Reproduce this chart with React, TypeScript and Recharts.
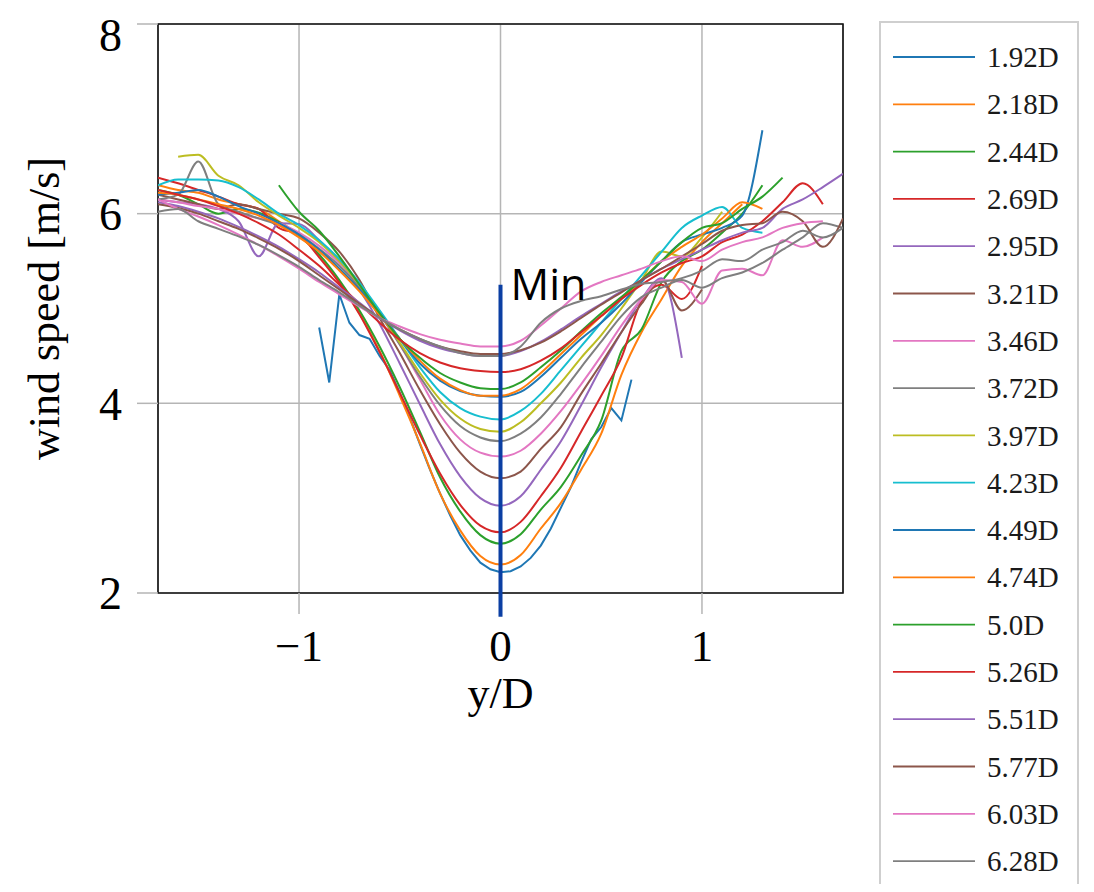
import {
  LineChart,
  Line,
  XAxis,
  YAxis,
  CartesianGrid,
  ReferenceArea,
  ReferenceLine,
  ReferenceDot,
} from "recharts";

// lateral position y/D for the regular profiles
const X_GRID = [
  -1.7, -1.6, -1.5, -1.4, -1.3, -1.2, -1.1, -1.0, -0.9, -0.8, -0.7, -0.6, -0.5,
  -0.4, -0.3, -0.2, -0.1, 0, 0.1, 0.2, 0.3, 0.4, 0.5, 0.6, 0.7, 0.8, 0.9, 1.0,
  1.1, 1.2, 1.3, 1.4, 1.5, 1.6, 1.7,
];

// the closest profile has a shorter, finer scan
const X_FINE = [
  -0.9, -0.85, -0.8, -0.75, -0.7, -0.65, -0.6, -0.55, -0.5, -0.45, -0.4, -0.35,
  -0.3, -0.25, -0.2, -0.15, -0.1, -0.05, 0, 0.05, 0.1, 0.15, 0.2, 0.25, 0.3,
  0.35, 0.4, 0.45, 0.5, 0.55, 0.6, 0.65,
];

const X_TICKS = [-1, 0, 1];
const Y_TICKS = [2, 4, 6, 8];

const LABELS = [
  "1.92D", "2.18D", "2.44D", "2.69D", "2.95D", "3.21D", "3.46D", "3.72D", "3.97D",
  "4.23D", "4.49D", "4.74D", "5.0D", "5.26D", "5.51D", "5.77D", "6.03D", "6.28D",
];

const COLORS = [
  "#1f77b4", "#ff7f0e", "#2ca02c", "#d62728", "#9467bd", "#8c564b", "#e377c2",
  "#7f7f7f", "#bcbd22", "#17becf", "#1f77b4", "#ff7f0e", "#2ca02c", "#d62728",
  "#9467bd", "#8c564b", "#e377c2", "#7f7f7f",
];

const _ = null;

// wind speed [m/s] per downstream distance
const U_192 = [
  4.8, 4.22, 5.15, 4.85, 4.72, 4.68, 4.5, 4.35, 4.11, 3.85, 3.57, 3.3, 3.05, 2.82,
  2.61, 2.45, 2.32, 2.25, 2.22, 2.23, 2.28, 2.37, 2.5, 2.68, 2.9, 3.12, 3.38, 3.62,
  3.75, 3.95, 3.82, 4.25,
];
const U_218 = [
  6.3, 6.25, 6.22, 6.15, 6.1, 6.05, 5.92, 5.77, 5.56, 5.28, 4.95, 4.55, 4.08, 3.58,
  3.05, 2.66, 2.39, 2.3, 2.4, 2.68, 2.95, 3.3, 3.68, 4.3, 4.75, 5.1, 5.45, 5.7,
  5.9, 6.1, _, _, _, _, _,
];
const U_244 = [
  6.25, 6.2, 6.1, 6.0, 6.05, 6.01, 5.91, 5.77, 5.57, 5.3, 4.98, 4.6, 4.17, 3.7,
  3.22, 2.86, 2.61, 2.52, 2.62, 2.88, 3.12, 3.45, 3.82, 4.55, 4.78, 5.28, 5.5,
  5.62, 5.8, 6.0, 6.3, _, _, _, _,
];
const U_269 = [
  6.38, 6.32, 6.25, 6.18, 6.1, 6.05, 5.85, 5.78, 5.54, 5.27, 4.94, 4.54, 4.11,
  3.67, 3.26, 2.93, 2.71, 2.64, 2.75, 3.02, 3.32, 3.7, 4.08, 4.48, 5.08, 5.25,
  5.1, 5.45, _, _, _, _, _, _, _,
];
const U_295 = [
  6.15, 6.12, 6.1, 6.05, 5.92, 5.55, 5.9, 5.89, 5.72, 5.5, 5.2, 4.84, 4.42, 3.99,
  3.57, 3.23, 3.0, 2.92, 3.02, 3.3, 3.6, 3.98, 4.38, 4.75, 5.1, 5.32, 4.48, _, _,
  _, _, _, _, _, _,
];
const U_321 = [
  6.2, 6.15, 6.1, 6.05, 6.1, 6.05, 6.0, 5.95, 5.8, 5.6, 5.3, 4.9, 4.53, 4.14,
  3.78, 3.48, 3.28, 3.21, 3.28, 3.52, 3.75, 4.1, 4.42, 4.75, 5.05, 5.3, 4.98, 5.2,
  _, _, _, _, _, _, _,
];
const U_346 = [
  6.15, 6.12, 6.08, 6.05, 6.0, 5.95, 5.9, 5.8, 5.66, 5.48, 5.25, 4.95, 4.62, 4.25,
  3.88, 3.62, 3.48, 3.44, 3.5, 3.68, 3.92, 4.2, 4.5, 4.82, 5.1, 5.3, 5.28, 5.05,
  5.4, 5.42, 5.35, 5.72, 5.65, 5.75, _,
];
const U_372 = [
  6.15, 6.2, 6.55, 6.1, 6.02, 5.95, 5.88, 5.78, 5.63, 5.45, 5.22, 4.94, 4.62,
  4.28, 3.98, 3.76, 3.64, 3.6, 3.68, 3.85, 4.1, 4.38, 4.65, 4.92, 5.12, 5.22, 5.3,
  5.22, 5.32, 5.38, 5.48, 5.62, 5.75, 5.9, 5.85,
];
const U_397 = [
  _, 6.6, 6.62, 6.4, 6.3, 6.12, 5.98, 5.85, 5.7, 5.5, 5.25, 4.95, 4.64, 4.32,
  4.04, 3.84, 3.73, 3.7, 3.8, 4.0, 4.22, 4.48, 4.72, 5.0, 5.3, 5.6, 5.55, 5.75,
  6.02, _, _, _, _, _, _,
];
const U_423 = [
  6.3, 6.36, 6.36, 6.35, 6.28, 6.15, 6.0, 5.88, 5.72, 5.52, 5.27, 4.98, 4.68,
  4.38, 4.12, 3.95, 3.86, 3.83, 3.92, 4.1, 4.35, 4.6, 4.85, 5.1, 5.35, 5.6, 5.85,
  5.98, 6.07, 5.85, 5.8, _, _, _, _,
];
const U_449 = [
  6.2, 6.22, 6.25, 6.18, 6.08, 6.0, 5.9, 5.78, 5.62, 5.42, 5.2, 4.95, 4.68, 4.42,
  4.24, 4.13, 4.08, 4.07, 4.12, 4.28, 4.48, 4.68, 4.85, 5.05, 5.28, 5.5, 5.7,
  5.78, 5.85, 5.98, 6.88, _, _, _, _,
];
const U_474 = [
  6.22, 6.2, 6.15, 6.1, 6.05, 5.98, 5.88, 5.75, 5.6, 5.4, 5.18, 4.93, 4.68, 4.45,
  4.26, 4.14, 4.08, 4.08, 4.15, 4.32, 4.52, 4.72, 4.92, 5.1, 5.3, 5.5, 5.65, 5.78,
  5.95, 6.12, 6.05, _, _, _, _,
];
const U_500 = [
  _, _, _, _, _, _, 6.3, 6.02, 5.82, 5.55, 5.25, 4.95, 4.68, 4.48, 4.32, 4.22,
  4.16, 4.15, 4.22, 4.38, 4.56, 4.76, 4.95, 5.12, 5.3, 5.5, 5.7, 5.85, 5.9, 6.05,
  6.18, 6.38, _, _, _,
];
const U_526 = [
  6.25, 6.2, 6.15, 6.08, 6.0, 5.9, 5.78, 5.62, 5.45, 5.25, 5.05, 4.85, 4.67, 4.53,
  4.43, 4.37, 4.34, 4.33, 4.36, 4.45, 4.58, 4.75, 4.92, 5.1, 5.25, 5.38, 5.48,
  5.55, 5.7, 5.78, 5.92, 6.12, 6.32, 6.1, _,
];
const U_551 = [
  6.12, 6.08, 6.02, 5.95, 5.86, 5.76, 5.65, 5.52, 5.38, 5.22, 5.06, 4.9, 4.77,
  4.66, 4.58, 4.53, 4.5, 4.5, 4.55, 4.65, 4.78, 4.92, 5.05, 5.18, 5.3, 5.42, 5.52,
  5.62, 5.72, 5.8, 5.85, 6.05, 6.15, 6.28, 6.42,
];
const U_577 = [
  6.1, 6.06, 6.0, 5.92, 5.84, 5.74, 5.63, 5.5, 5.35, 5.2, 5.05, 4.9, 4.78, 4.68,
  4.6, 4.55, 4.52, 4.52, 4.56, 4.64, 4.76, 4.9, 5.04, 5.17, 5.3, 5.42, 5.55, 5.68,
  5.82, 5.88, 5.9, 6.02, 5.92, 5.65, 5.95,
];
const U_603 = [
  6.15, 6.05, 5.97, 5.88, 5.78, 5.67, 5.55, 5.42, 5.28, 5.15, 5.02, 4.9, 4.81,
  4.73, 4.67, 4.63, 4.6, 4.6, 4.66, 4.82, 5.0, 5.18, 5.28, 5.35, 5.42, 5.5, 5.55,
  5.5, 5.62, 5.7, 5.75, 5.85, 5.9, 5.92, _,
];
const U_628 = [
  6.02, 6.05, 5.92, 5.84, 5.76, 5.67, 5.56, 5.44, 5.3, 5.17, 5.03, 4.9, 4.78,
  4.68, 4.6, 4.53, 4.5, 4.5, 4.6, 4.85, 5.0, 5.08, 5.13, 5.2, 5.26, 5.28, 5.32,
  5.4, 5.52, 5.5, 5.62, 5.7, 5.82, 5.75, 5.85,
];

const PROFILES = [
  U_192, U_218, U_244, U_269, U_295, U_321, U_346, U_372, U_397,
  U_423, U_449, U_474, U_500, U_526, U_551, U_577, U_603, U_628,
];

// position and top of the marker at the wake centre
const MIN_X = 0;
const MIN_TOP = 5.25;
const MIN_BOTTOM = 1.75;

const series = PROFILES.map((u, i) => {
  const xs = i === 0 ? X_FINE : X_GRID;
  return {
    name: LABELS[i],
    color: COLORS[i],
    data: xs.map((x, j) => ({ y: x, v: u[j] })),
  };
});

const serif = "'Liberation Serif', 'Times New Roman', serif";
const GRID = "#b5b5b5";
const TICK_SIZE = 21;
const TICK_MARGIN = 15;

const formatTick = (v: number) => (v < 0 ? "\u2212" + Math.abs(v) : String(v));

// x tick: gray tick mark below the frame (left out under the Min marker) and the label
const XTick = (props: any) => {
  const { x, y, payload } = props;
  const top = y - TICK_MARGIN - TICK_SIZE;
  return (
    <g>
      {payload.value !== MIN_X && (
        <line x1={x} x2={x} y1={top} y2={top + TICK_SIZE} stroke={GRID} strokeWidth={1.5} />
      )}
      <text
        x={x}
        y={y}
        dy="0.71em"
        textAnchor="middle"
        fill="#000"
        fontSize={45}
        fontFamily={serif}
      >
        {formatTick(payload.value)}
      </text>
    </g>
  );
};

const Legend = () => (
  <svg
    width={202}
    height={880}
    style={{ position: "absolute", left: 871, top: 13 }}
  >
    <rect x={1} y={1} width={198} height={900} fill="#fff" stroke="#cfcfcf" strokeWidth={2} />
    {series.map((s, i) => {
      const cy = 36 + i * 47.3;
      return (
        <g key={s.name}>
          <line x1={14} x2={96} y1={cy} y2={cy} stroke={s.color} strokeWidth={1.8} />
          <text x={108} y={cy} dy="0.35em" fontFamily={serif} fontSize={29} fill="#1a1a1a">
            {s.name}
          </text>
        </g>
      );
    })}
  </svg>
);

export default function App() {
  return (
    <div
      style={{
        position: "relative",
        width: 1086,
        height: 884,
        overflow: "hidden",
        marginBottom: -8,
      }}
    >
      <LineChart
        width={1086}
        height={884}
        margin={{ top: 16, right: 251, bottom: 199, left: 20 }}
      >
        <CartesianGrid stroke={GRID} strokeWidth={1.5} />
        <XAxis
          dataKey="y"
          type="number"
          domain={[-1.7, 1.7]}
          ticks={X_TICKS}
          allowDataOverflow
          height={100}
          tickSize={TICK_SIZE}
          tickMargin={TICK_MARGIN}
          axisLine={false}
          tickLine={false}
          tick={<XTick />}
          label={{
            value: "y/D",
            position: "insideTop",
            offset: 84,
            fill: "#000",
            fontSize: 44,
            fontFamily: serif,
          }}
        />
        <YAxis
          type="number"
          domain={[2, 8]}
          ticks={Y_TICKS}
          allowDataOverflow
          width={130}
          tickSize={TICK_SIZE}
          tickMargin={TICK_MARGIN}
          axisLine={false}
          tickLine={{ stroke: GRID, strokeWidth: 1.5 }}
          tick={{ fill: "#000", fontSize: 46, fontFamily: serif }}
          label={{
            value: "wind speed [m/s]",
            angle: -90,
            position: "insideLeft",
            offset: 15,
            fill: "#000",
            fontSize: 44,
            fontFamily: serif,
            style: { textAnchor: "middle" },
          }}
        />
        {series.map((s, i) => (
          <Line
            key={s.name}
            data={s.data}
            dataKey="v"
            name={s.name}
            type={i === 0 ? "linear" : "monotone"}
            stroke={s.color}
            strokeWidth={2}
            dot={false}
            isAnimationActive={false}
          />
        ))}
        <ReferenceArea
          x1={-1.7}
          x2={1.7}
          y1={2}
          y2={8}
          fill="none"
          fillOpacity={0}
          stroke="#111"
          strokeWidth={1.6}
        />
        <ReferenceLine
          segment={[
            { x: MIN_X, y: MIN_TOP },
            { x: MIN_X, y: MIN_BOTTOM },
          ]}
          stroke="#0b3fa3"
          strokeWidth={4}
          ifOverflow="visible"
        />
        <ReferenceDot
          x={MIN_X}
          y={MIN_TOP}
          r={0}
          fill="none"
          stroke="none"
          ifOverflow="visible"
          label={{
            value: "Min",
            position: "right",
            offset: 10,
            fill: "#000",
            fontSize: 43,
            fontFamily: "'Open Sans', sans-serif",
          }}
        />
      </LineChart>
      <Legend />
    </div>
  );
}
